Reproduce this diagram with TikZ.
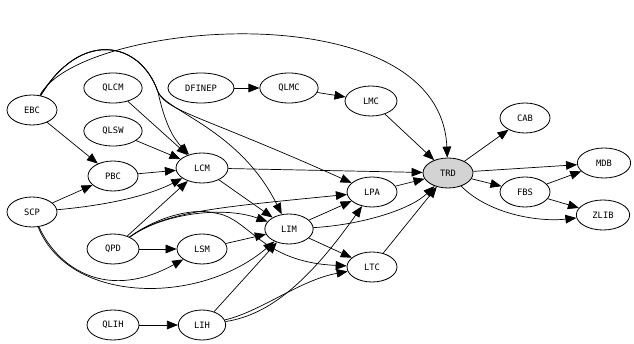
\documentclass[tikz,border=0pt]{standalone}
\usepackage{fontspec}
\setmonofont{DejaVu Sans Mono}
\usetikzlibrary{shapes.geometric,arrows.meta}
\definecolor{trdgray}{RGB}{211,211,211}
\begin{document}
\begin{tikzpicture}[
    x=0.03cm, y=-0.03cm,
    line join=round, >={Triangle[length=3.3mm,width=2.6mm]},
    every node/.style={font=\ttfamily\fontsize{7.5}{9}\selectfont},
    mod/.style={ellipse,draw,line width=0.7pt,inner sep=0pt,
        minimum width=1.5cm,minimum height=0.9cm},
    wide/.style={minimum width=1.75cm},
    dep/.style={->,line width=0.6pt}
]
    \useasboundingbox (0,0) rectangle (634,344);

    % Modules, left to right by column.
    \node[mod] (EBC) at (32,110) {EBC};
    \node[mod] (SCP) at (32,212) {SCP};
    \node[mod,wide] (QLCM) at (113,88) {QLCM};
    \node[mod,wide] (QLSW) at (113,131) {QLSW};
    \node[mod] (PBC) at (113,176) {PBC};
    \node[mod,minimum width=1.56cm] (QPD) at (113,249) {QPD};
    \node[mod,minimum width=1.56cm] (QLIH) at (113,325) {QLIH};
    \node[mod,minimum width=1.98cm] (DFINEP) at (201,88) {DFINEP};
    \node[mod,minimum width=1.56cm] (LCM) at (202,168) {LCM};
    \node[mod] (LSM) at (202,249) {LSM};
    \node[mod,minimum width=1.42cm] (LIH) at (202,325) {LIH};
    \node[mod,wide] (QLMC) at (289,88) {QLMC};
    \node[mod,minimum width=1.45cm] (LIM) at (289,229) {LIM};
    \node[mod,minimum width=1.56cm] (LMC) at (371,101) {LMC};
    \node[mod] (LPA) at (372,192) {LPA};
    \node[mod] (LTC) at (372,267) {LTC};
    \node[mod,fill=trdgray] (TRD) at (448,173) {TRD};
    \node[mod] (CAB) at (525,118) {CAB};
    \node[mod] (FBS) at (525,192) {FBS};
    \node[mod,minimum width=1.6cm] (MDB) at (604,163) {MDB};
    \node[mod,minimum width=1.6cm] (ZLIB) at (603,215) {ZLIB};

    % Straight dependencies.
    \draw[dep] (EBC) -- (PBC);
    \draw[dep] (SCP) -- (PBC);
    \draw[dep] (PBC) -- (LCM);
    \draw[dep] (QLCM) -- (LCM);
    \draw[dep] (QLSW) -- (LCM);
    \draw[dep] (QPD) -- (LCM);
    \draw[dep] (QPD) -- (LSM);
    \draw[dep] (QLIH) -- (LIH);
    \draw[dep] (DFINEP) -- (QLMC);
    \draw[dep] (QLMC) -- (LMC);
    \draw[dep] (LMC) -- (TRD);
    \draw[dep] (LCM) -- (TRD);
    \draw[dep] (LCM) -- (LIM);
    \draw[dep] (LSM) -- (LIM);
    \draw[dep] (LIH) -- (LIM);
    \draw[dep] (LIM) -- (LPA);
    \draw[dep] (LIM) -- (LTC);
    \draw[dep] (LPA) -- (TRD);
    \draw[dep] (LTC) -- (TRD);
    \draw[dep] (TRD) -- (CAB);
    \draw[dep] (TRD) -- (MDB);
    \draw[dep] (TRD) -- (FBS);
    \draw[dep] (FBS) -- (MDB);
    \draw[dep] (FBS) -- (ZLIB);

    % Curved dependencies.
    \draw[dep] (EBC) .. controls (80,20) and (440,-10) .. (TRD);
    \draw[dep] (EBC) .. controls (80,30) and (140,40) .. (158,92)
        .. controls (163,115) and (170,135) .. (LCM);
    \draw[dep] (EBC) .. controls (80,30) and (140,40) .. (158,92)
        .. controls (168,112) and (200,115) .. (LPA);
    \draw[dep] (EBC) .. controls (80,30) and (140,40) .. (158,92)
        .. controls (168,112) and (240,130) .. (LIM);
    \draw[dep] (SCP) .. controls (110,205) and (150,195) .. (LCM);
    \draw[dep] (SCP) .. controls (60,272) and (110,300) .. (LSM);
    \draw[dep] (SCP) .. controls (70,305) and (200,305) .. (LIM);
    \draw[dep] (QPD) .. controls (160,215) and (220,205) .. (LIM);
    \draw[dep] (QPD) .. controls (165,212) and (210,208) .. (LPA);
    \draw[dep] (QPD) .. controls (160,215) and (195,208) .. (215,213)
        .. controls (250,218) and (260,262) .. (LTC);
    \draw[dep] (LIH) .. controls (270,315) and (310,280) .. (LPA);
    \draw[dep] (LIH) .. controls (260,312) and (300,280) .. (LTC);
    \draw[dep] (LIM) .. controls (360,225) and (410,210) .. (TRD);
    \draw[dep] (TRD) .. controls (490,215) and (540,222) .. (ZLIB);
\end{tikzpicture}
\end{document}
